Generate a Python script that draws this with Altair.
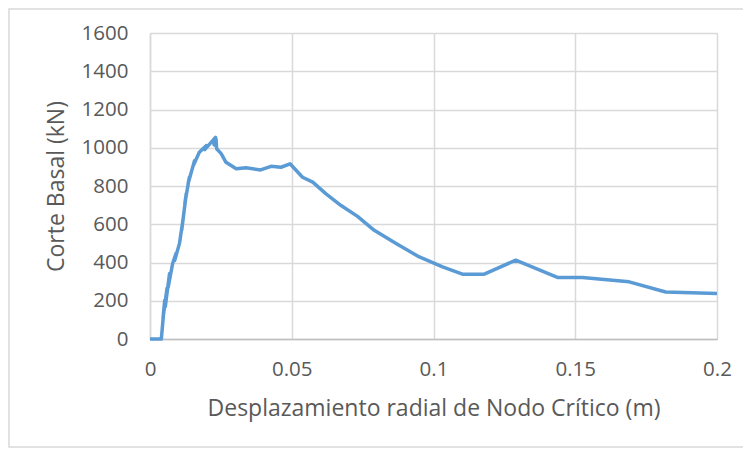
import altair as alt
import pandas as pd

# Pushover curve: displacement (m) vs base shear (kN)
disp = [0.0, 0.0040, 0.0052, 0.0046, 0.0060, 0.0054, 0.0069, 0.0064, 0.0080, 0.0092,
        0.0087, 0.0104, 0.0116, 0.0112, 0.0128, 0.0123, 0.0139, 0.0134, 0.0157, 0.0152,
        0.0174, 0.0198, 0.0193, 0.0221, 0.0231, 0.0226, 0.0233, 0.0235, 0.0251, 0.0268,
        0.0304, 0.0339, 0.0390, 0.0427, 0.0462, 0.0494, 0.0538, 0.0574, 0.0621, 0.0674,
        0.0732, 0.0791, 0.0868, 0.0950, 0.1032, 0.1102, 0.1179, 0.1290, 0.1437, 0.1525,
        0.1690, 0.1819, 0.2000]
shear = [0, 0, 203, 110, 265, 170, 342, 270, 396, 448,
         410, 500, 620, 570, 761, 710, 846, 810, 932, 905,
         976, 1011, 990, 1037, 1054, 1015, 1045, 995, 969, 924,
         890, 895, 884, 903, 898, 916, 846, 820, 759, 698,
         641, 568, 499, 429, 377, 339, 339, 412, 322, 322,
         299, 246, 238]

x_ticks = [0, 0.05, 0.1, 0.15, 0.2]
y_ticks = [0, 200, 400, 600, 800, 1000, 1200, 1400, 1600]

df = pd.DataFrame({"i": list(range(len(disp))), "d": disp, "v": shear})

FONT = "Open Sans"
TXT = "#595959"

line = alt.Chart(df).mark_line(color="#5B9BD5", strokeWidth=3.5, strokeJoin="round").encode(
    x=alt.X("d:Q",
            scale=alt.Scale(domain=[0, 0.2], nice=False, zero=True),
            axis=alt.Axis(values=x_ticks, format="~g", title="Desplazamiento radial de Nodo Crítico (m)",
                          titleFontSize=23, titleFontWeight="normal", titleColor=TXT, titleFont=FONT,
                          titlePadding=18,
                          labelFontSize=20.5, labelColor=TXT, labelFont=FONT, labelPadding=20,
                          ticks=False, domainColor="#BFBFBF", domainWidth=1.5,
                          gridColor="#D9D9D9", gridWidth=1.5, labelFlush=False)),
    y=alt.Y("v:Q",
            scale=alt.Scale(domain=[0, 1600], nice=False),
            axis=alt.Axis(values=y_ticks, format="d", title="Corte Basal (kN)",
                          titleFontSize=23, titleFontWeight="normal", titleColor=TXT, titleFont=FONT,
                          titlePadding=13,
                          labelFontSize=20.5, labelColor=TXT, labelFont=FONT, labelPadding=22,
                          ticks=False, domainColor="#D9D9D9", domainWidth=1.5,
                          gridColor="#D9D9D9", gridWidth=1.5)),
    order=alt.Order("i:Q"),
)

frame = alt.Chart(pd.DataFrame({"a": [0]})).mark_rect(
    fill="transparent", stroke="#D9D9D9", strokeWidth=1.5
).encode(
    x=alt.value(-141), x2=alt.value(610),
    y=alt.value(-24), y2=alt.value(414),
)

chart = alt.layer(frame, line).properties(
    width=567, height=306,
    autosize=alt.AutoSizeParams(type="none"),
    padding={"left": 142, "top": 25, "right": 26, "bottom": 110},
).configure_view(stroke=None).configure(background="white")

chart.save("out.html", embed_options={"renderer": "svg", "actions": False})
